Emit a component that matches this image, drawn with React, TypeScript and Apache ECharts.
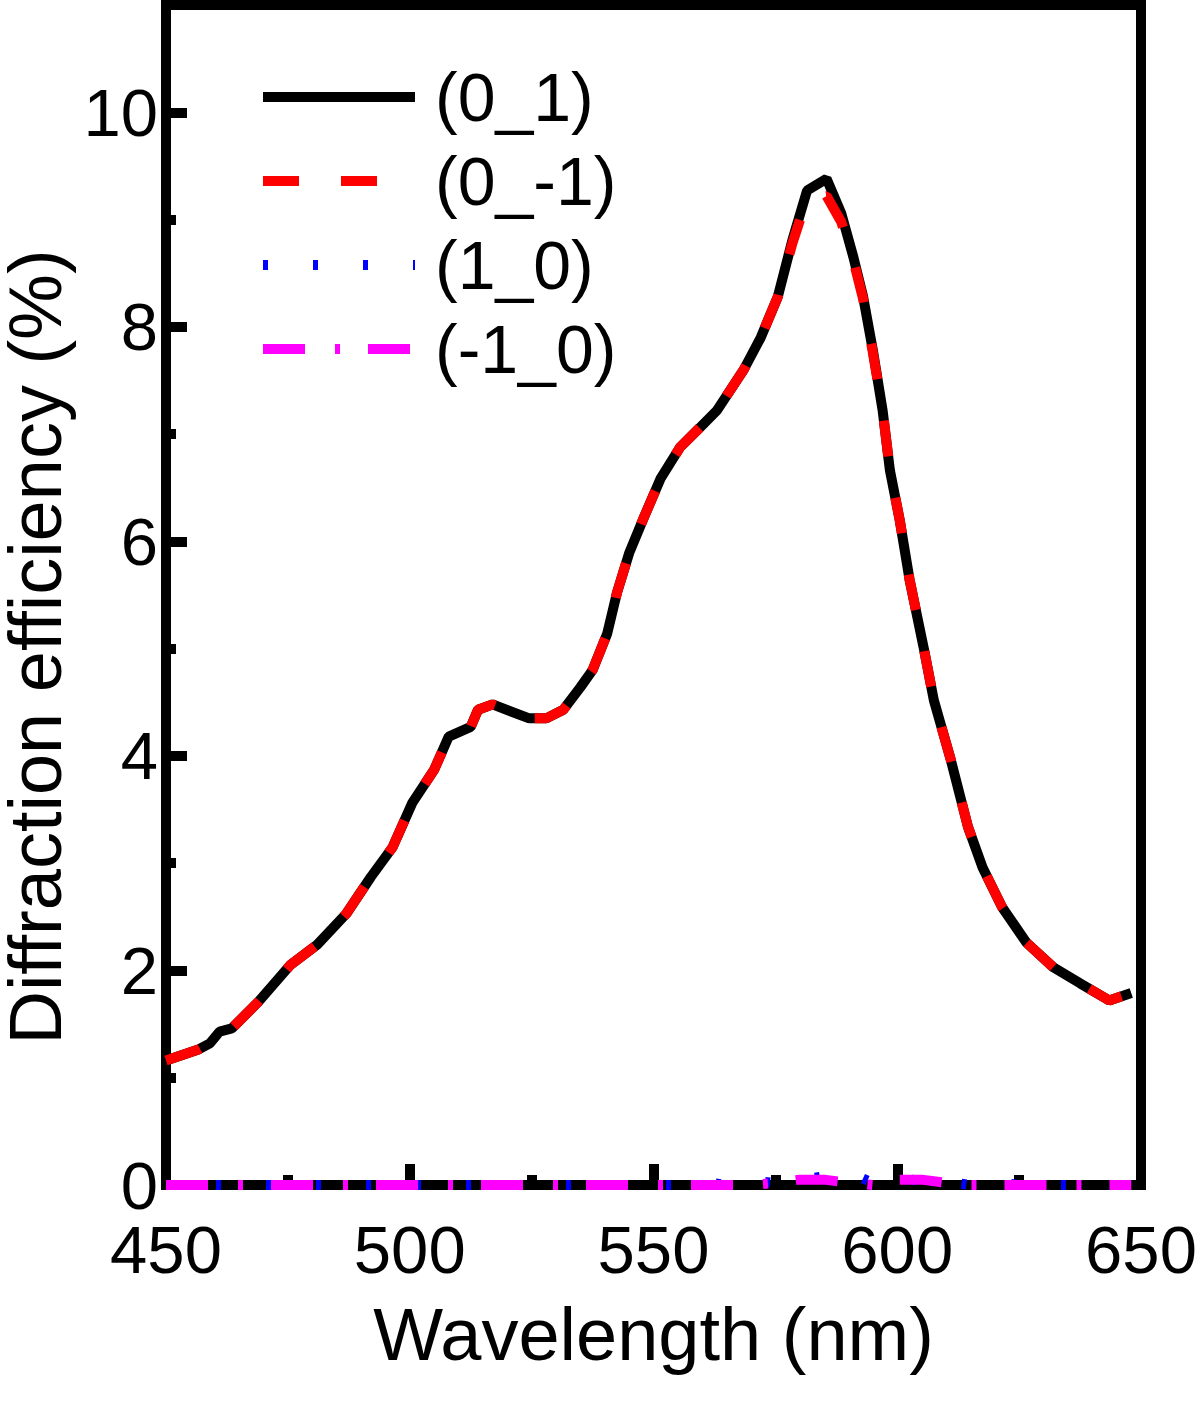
import React, { useEffect, useRef } from "react";
import * as echarts from "echarts";

const FONT = "'Liberation Sans', Arial, Helvetica, sans-serif";

// (0_1) and (0_-1) sampled wavelengths (nm)
const wlMain = [
  450, 456.5, 459, 461, 463.5, 469, 475.5, 481, 487, 492, 496.5, 500.5, 505, 508,
  512.5, 514, 517, 524.5, 528, 531.5, 535, 537.5, 540.5, 542.5, 545, 548, 551.5,
  555.5, 559.5, 563, 568.5, 572, 575.5, 578.5, 581.5, 585.5, 588.5, 591, 593, 595,
  597, 598.5, 600.5, 602.5, 605.5, 607.5, 611, 614.5, 617.5, 621.5, 626.5, 632,
  637.5, 643.5, 648,
];
const eff0_1 = [
  1.16, 1.26, 1.32, 1.43, 1.46, 1.71, 2.05, 2.24, 2.53, 2.87, 3.15, 3.56, 3.87, 4.18,
  4.27, 4.43, 4.48, 4.35, 4.35, 4.43, 4.64, 4.8, 5.14, 5.52, 5.89, 6.22, 6.59,
  6.88, 7.06, 7.22, 7.6, 7.9, 8.28, 8.81, 9.27, 9.38, 9.06, 8.65, 8.28, 7.78,
  7.22, 6.66, 6.2, 5.65, 4.99, 4.52, 3.96, 3.34, 2.96, 2.59, 2.26, 2.03,
  1.88, 1.72, 1.79,
];
const eff0_m1 = [
  1.16, 1.26, 1.32, 1.43, 1.46, 1.71, 2.05, 2.24, 2.53, 2.87, 3.15, 3.56, 3.87, 4.18,
  4.27, 4.43, 4.48, 4.35, 4.35, 4.43, 4.64, 4.8, 5.14, 5.52, 5.89, 6.22, 6.59,
  6.88, 7.06, 7.22, 7.6, 7.9, 8.28, 8.78, 9.2, 9.22, 8.98, 8.62, 8.26, 7.76,
  7.22, 6.66, 6.2, 5.65, 4.99, 4.52, 3.96, 3.34, 2.96, 2.59, 2.26, 2.03,
  1.88, 1.72, 1.79,
];

// (1_0) and (-1_0) sampled wavelengths (nm)
const wlSide = [
  450, 455, 460, 465, 470, 475, 480, 485, 490, 495, 500, 505, 510, 515, 520, 525,
  530, 535, 540, 545, 550, 555, 560, 565, 570, 575, 580, 585, 590, 595, 600, 605,
  610, 615, 620, 625, 630, 635, 640, 645, 648,
];
const eff1_0 = [
  0, 0, 0, 0, 0, 0, 0, 0, 0, 0, 0, 0, 0, 0, 0, 0,
  0, 0, 0, 0, 0, 0, 0.03, 0, 0.04, 0.02, 0.05, 0.08, 0.12, 0.02, 0.06, 0.04,
  0.03, 0, 0.03, 0, 0, 0, 0, 0, 0,
];
const effM1_0 = [
  0, 0, 0, 0, 0, 0, 0, 0, 0, 0, 0, 0, 0, 0, 0, 0,
  0, 0, 0, 0, 0, 0, 0, 0, 0, 0.02, 0.05, 0.05, 0.02, 0, 0.05, 0.05,
  0.02, 0, 0, 0, 0, 0, 0, 0, 0,
];

const seriesNames = ["(0_1)", "(0_-1)", "(1_0)", "(-1_0)"];

const pair = (xs: number[], ys: number[]) => xs.map((x, i) => [x, ys[i]]);

export default function App() {
  const ref = useRef<HTMLDivElement>(null);
  useEffect(() => {
    document.body.style.margin = "0";
    if (!ref.current) return;
    const chart = echarts.init(ref.current, null, { renderer: "svg" });
    const axisCommon = {
      type: "value" as const,
      splitLine: { show: false },
    };
    chart.setOption({
      animation: false,
      backgroundColor: "#fff",
      textStyle: { fontFamily: FONT },
      grid: {
        left: 166,
        top: 5,
        right: 59,
        bottom: 224,
        show: true,
        borderColor: "#000",
        borderWidth: 10,
        backgroundColor: "transparent",
        containLabel: false,
        outerBoundsMode: "none",
      },
      legend: {
        orient: "vertical",
        left: 258,
        top: 62,
        padding: 0,
        itemWidth: 152,
        itemHeight: 20,
        itemGap: 14,
        data: seriesNames,
        lineStyle: { width: 10 },
        itemStyle: { opacity: 0 },
        textStyle: {
          fontFamily: FONT,
          fontSize: 68,
          lineHeight: 70,
          color: "#000",
          padding: [0, 0, 0, 15],
        },
      },
      xAxis: [
        {
          ...axisCommon,
          min: 450,
          max: 650,
          interval: 50,
          position: "bottom",
          name: "Wavelength (nm)",
          nameLocation: "middle",
          nameGap: 112,
          nameTextStyle: { fontFamily: FONT, fontSize: 74, color: "#000" },
          axisLine: { onZero: false, lineStyle: { color: "#000", width: 10 } },
          axisTick: { inside: true, length: 21, lineStyle: { color: "#000", width: 10 } },
          axisLabel: { fontFamily: FONT, fontSize: 67, lineHeight: 60, color: "#000", margin: 34 },
        },
        {
          ...axisCommon,
          min: 450,
          max: 650,
          interval: 25,
          position: "bottom",
          axisLine: { show: false, onZero: false },
          axisTick: { inside: true, length: 10, lineStyle: { color: "#000", width: 10 } },
          axisLabel: { show: false },
        },
      ],
      yAxis: [
        {
          ...axisCommon,
          min: 0,
          max: 11,
          interval: 2,
          position: "left",
          name: "Diffraction efficiency (%)",
          nameLocation: "middle",
          nameGap: 82,
          nameRotate: 90,
          nameTextStyle: {
            fontFamily: FONT,
            fontSize: 74,
            lineHeight: 72,
            color: "#000",
            padding: [0, 104, 0, 0],
          },
          axisLine: { onZero: false, lineStyle: { color: "#000", width: 10 } },
          axisTick: { inside: true, length: 21, lineStyle: { color: "#000", width: 10 } },
          axisLabel: {
            fontFamily: FONT,
            fontSize: 67,
            lineHeight: 60,
            color: "#000",
            margin: 8,
            showMaxLabel: false,
            formatter: (v: number) => (v > 10 ? "" : String(v)),
          },
        },
        {
          ...axisCommon,
          min: 0,
          max: 11,
          interval: 1,
          position: "left",
          axisLine: { show: false, onZero: false },
          axisTick: { inside: true, length: 10, lineStyle: { color: "#000", width: 10 } },
          axisLabel: { show: false },
        },
      ],
      series: [
        {
          name: seriesNames[0],
          type: "line",
          symbol: "none",
          clip: false,
          data: pair(wlMain, eff0_1),
          lineStyle: { color: "#000", width: 10, type: "solid" },
          itemStyle: { color: "#000" },
        },
        {
          name: seriesNames[1],
          type: "line",
          symbol: "none",
          clip: false,
          data: pair(wlMain, eff0_m1),
          lineStyle: { color: "#ff0000", width: 10, type: [36, 42], cap: "butt" },
          itemStyle: { color: "#ff0000" },
        },
        {
          name: seriesNames[2],
          type: "line",
          symbol: "none",
          clip: false,
          data: pair(wlSide, eff1_0),
          lineStyle: { color: "#0000ff", width: 10, type: [5, 45], cap: "butt" },
          itemStyle: { color: "#0000ff" },
        },
        {
          name: seriesNames[3],
          type: "line",
          symbol: "none",
          clip: false,
          data: pair(wlSide, effM1_0),
          lineStyle: { color: "#ff00ff", width: 10, type: [42, 30, 5, 28], cap: "butt" },
          itemStyle: { color: "#ff00ff" },
        },
      ],
    });
    return () => chart.dispose();
  }, []);
  return <div ref={ref} style={{ width: 1200, height: 1409 }} />;
}
